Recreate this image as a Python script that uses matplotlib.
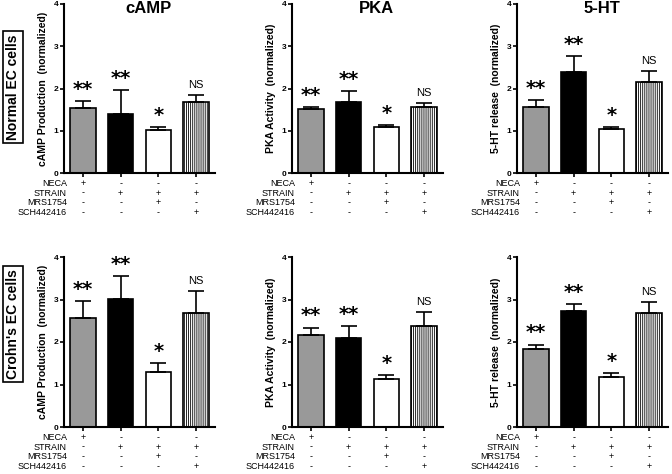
import matplotlib
matplotlib.use("Agg")
import matplotlib.pyplot as plt

plt.rcParams['font.family'] = ['Liberation Sans', 'DejaVu Sans']
plt.rcParams['hatch.linewidth'] = 0.6

titles = ["cAMP", "PKA", "5-HT"]
ylabels = ["cAMP Production  (normalized)", "PKA Activity  (normalized)", "5-HT release  (normalized)"]
row_labels = ["Normal EC cells", "Crohn's EC cells"]

# values [row][col] -> 4 bars
normal_means = [[1.55, 1.40, 1.01, 1.69],
                [1.51, 1.69, 1.08, 1.57],
                [1.57, 2.40, 1.03, 2.16]]
normal_err = [[0.15, 0.57, 0.07, 0.16],
              [0.06, 0.25, 0.06, 0.09],
              [0.16, 0.36, 0.05, 0.26]]
crohn_means = [[2.56, 3.01, 1.30, 2.68],
               [2.16, 2.10, 1.12, 2.38],
               [1.84, 2.73, 1.18, 2.68]]
crohn_err = [[0.40, 0.55, 0.21, 0.52],
             [0.18, 0.27, 0.11, 0.32],
             [0.10, 0.17, 0.08, 0.25]]
signif = ["**", "**", "*", "NS"]

treat_names = ["NECA", "STRAIN", "MRS1754", "SCH442416"]
treat_signs = [["+", "-", "-", "-"],
               ["-", "+", "+", "+"],
               ["-", "-", "+", "-"],
               ["-", "-", "-", "+"]]

yticks = [0, 1, 2, 3, 4]

face = ["#999999", "black", "white", "white"]
hatches = [None, None, None, "||||||||"]

fig = plt.figure(figsize=(6.72, 4.74), dpi=100)
W, H = 672, 474
col_left = [64, 292, 517]
row_axes = [(4, 173), (257, 427)]
axw = 151

for r, (means_all, err_all) in enumerate([(normal_means, normal_err), (crohn_means, crohn_err)]):
    top, bot = row_axes[r]
    for c in range(3):
        ax = fig.add_axes([col_left[c] / W, 1 - bot / H, axw / W, (bot - top) / H])
        means = means_all[c]
        errs = err_all[c]
        x = list(range(4))
        for i in x:
            ax.bar(i, means[i], width=0.68, color=face[i], edgecolor='black',
                   linewidth=1.2, hatch=hatches[i], zorder=2)
            ax.errorbar(i, means[i], yerr=[[0], [errs[i]]], fmt='none', ecolor='black',
                        elinewidth=1.2, capsize=6, capthick=1.2, zorder=3)
            sig = signif[i]
            if sig == "NS":
                ax.text(i, means[i] + errs[i] + 0.12, sig, ha='center', va='bottom', fontsize=8)
            else:
                ax.text(i, means[i] + errs[i] + 0.05, sig, ha='center', va='bottom',
                        fontsize=14, fontweight='bold', family='DejaVu Sans')
        ax.set_xlim(-0.5, 3.5)
        ax.set_ylim(0, 4)
        ax.set_yticks(yticks)
        ax.set_yticklabels([str(v) for v in yticks], fontsize=6, fontweight='bold')
        ax.set_xticks(x)
        ax.set_xticklabels([])
        ax.tick_params(axis='both', direction='out', length=3, width=1.2, pad=1)
        for s in ['top', 'right']:
            ax.spines[s].set_visible(False)
        for s in ['left', 'bottom']:
            ax.spines[s].set_linewidth(1.5)
        ax.set_ylabel(ylabels[c], fontsize=7.5, fontweight='bold', labelpad=4)
        if r == 0:
            ax.text(0.56, 0.975, titles[c], transform=ax.transAxes, ha='center', va='center',
                    fontsize=12, fontweight='bold')
        # treatment table
        for k, name in enumerate(treat_names):
            off = -(7.5 + k * 7.0)
            ax.annotate(name, xy=(0.02, 0), xycoords='axes fraction', xytext=(0, off),
                        textcoords='offset points', ha='right', va='center', fontsize=6.5,
                        annotation_clip=False)
            for i in x:
                ax.annotate(treat_signs[k][i], xy=(i, 0), xycoords=('data', 'axes fraction'),
                            xytext=(0, off), textcoords='offset points', ha='center',
                            va='center', fontsize=6.5, annotation_clip=False)

fig.text(13 / W, 1 - 87 / H, row_labels[0], rotation=90, ha='center', va='center',
         fontsize=10, fontweight='bold',
         bbox=dict(boxstyle='square,pad=0.25', facecolor='white', edgecolor='black', linewidth=1.2))
fig.text(13 / W, 1 - 324 / H, row_labels[1], rotation=90, ha='center', va='center',
         fontsize=10, fontweight='bold',
         bbox=dict(boxstyle='square,pad=0.25', facecolor='white', edgecolor='black', linewidth=1.2))

fig.savefig("out.png", dpi=100)
